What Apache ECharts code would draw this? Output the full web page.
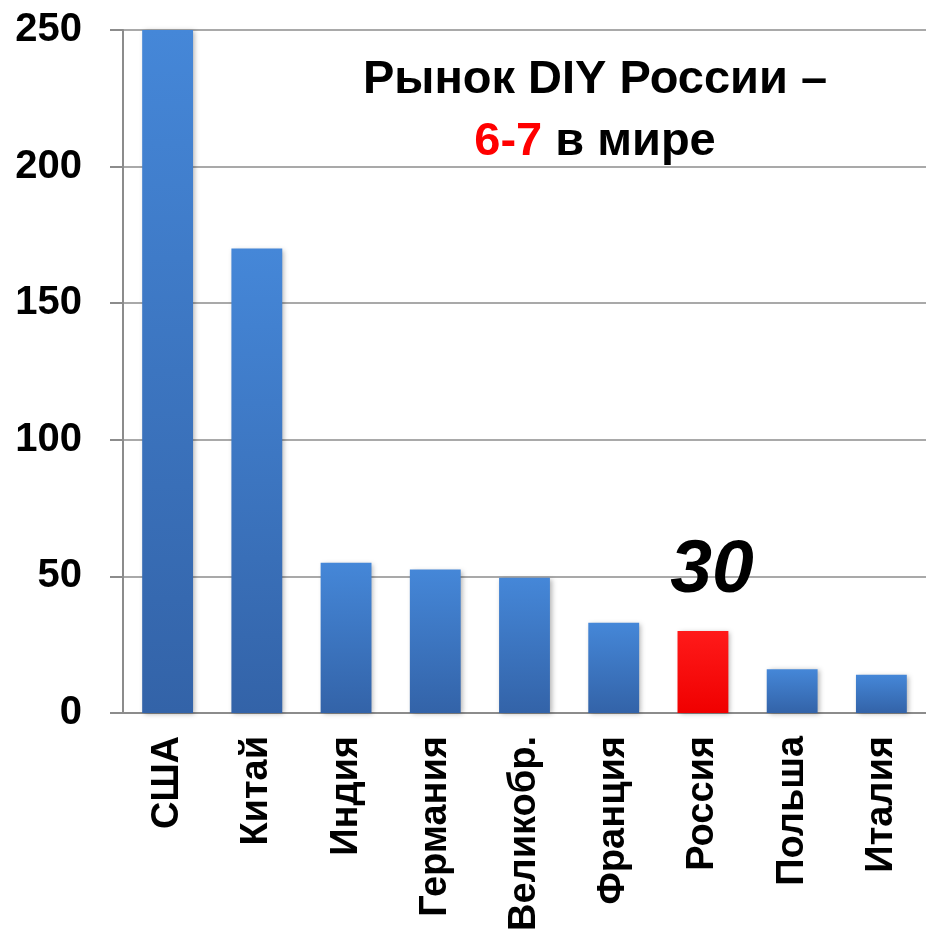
<!DOCTYPE html>
<html>
<head>
<meta charset="utf-8">
<script src="https://cdn.jsdelivr.net/npm/echarts@6/dist/echarts.min.js"></script>
<style>html,body{margin:0;padding:0;background:#fff}#c{width:926px;height:934px}</style>
</head>
<body>
<div id="c"></div>
<script>
const categories = ['США', 'Китай', 'Индия', 'Германия', 'Великобр.', 'Франция', 'Россия', 'Польша', 'Италия'];
const values = [250, 170, 55, 52.5, 49.5, 33, 30, 16, 14];
const highlightIndex = 6;
const yTicks = [0, 50, 100, 150, 200, 250];

const FONT = 'Liberation Sans, Arial, sans-serif';
const blue = new echarts.graphic.LinearGradient(0, 0, 0, 1, [
  {offset: 0, color: '#4587d8'}, {offset: 1, color: '#3363a8'}
]);
const red = new echarts.graphic.LinearGradient(0, 0, 0, 1, [
  {offset: 0, color: '#ff1a1a'}, {offset: 1, color: '#f00000'}
]);

const seriesData = values.map((v, i) => {
  const item = {value: v, itemStyle: {color: i === highlightIndex ? red : blue}};
  if (i === highlightIndex) {
    item.label = {
      show: true, position: 'top', distance: 22, offset: [9, 0],
      formatter: '{c}', fontSize: 75, fontWeight: 'bold', fontStyle: 'italic',
      fontFamily: FONT, color: '#000'
    };
  }
  return item;
});

const chart = echarts.init(document.getElementById('c'), null, {renderer: 'canvas'});
chart.setOption({
  animation: false,
  backgroundColor: '#fff',
  grid: {left: 123, width: 811, top: 30, height: 692, containLabel: false},
  xAxis: {
    type: 'category', data: categories,
    axisLine: {show: true, lineStyle: {color: '#8c8c8c', width: 2}},
    axisTick: {show: false},
    axisLabel: {rotate: 90, margin: 23, fontSize: 38, fontWeight: 'bold', fontFamily: FONT, color: '#000'}
  },
  yAxis: {
    type: 'value', min: yTicks[0], max: yTicks[yTicks.length - 1], interval: yTicks[1] - yTicks[0],
    axisLine: {show: true, lineStyle: {color: '#8c8c8c', width: 2}},
    axisTick: {show: true, length: 13, lineStyle: {color: '#8c8c8c', width: 2}},
    splitLine: {show: true, lineStyle: {color: '#8c8c8c', width: 1.5}},
    axisLabel: {margin: 41, fontSize: 40, fontWeight: 'bold', fontFamily: FONT, color: '#000'}
  },
  series: [{
    type: 'bar', data: seriesData, barWidth: '57%',
    itemStyle: {shadowBlur: 5, shadowColor: 'rgba(0,0,0,0.3)', shadowOffsetX: 2, shadowOffsetY: 1}
  }],
  graphic: [{
    type: 'text', z: 100,
    style: {
      x: 595, y: 49, textAlign: 'center', textVerticalAlign: 'top',
      text: '{a|Рынок DIY России –}\n{r|6-7}{a| в мире}',
      rich: {
        a: {fontSize: 47, fontWeight: 'bold', fontFamily: FONT, fill: '#000', lineHeight: 62},
        r: {fontSize: 47, fontWeight: 'bold', fontFamily: FONT, fill: '#ff0000', lineHeight: 62}
      }
    }
  }]
});
</script>
</body>
</html>
